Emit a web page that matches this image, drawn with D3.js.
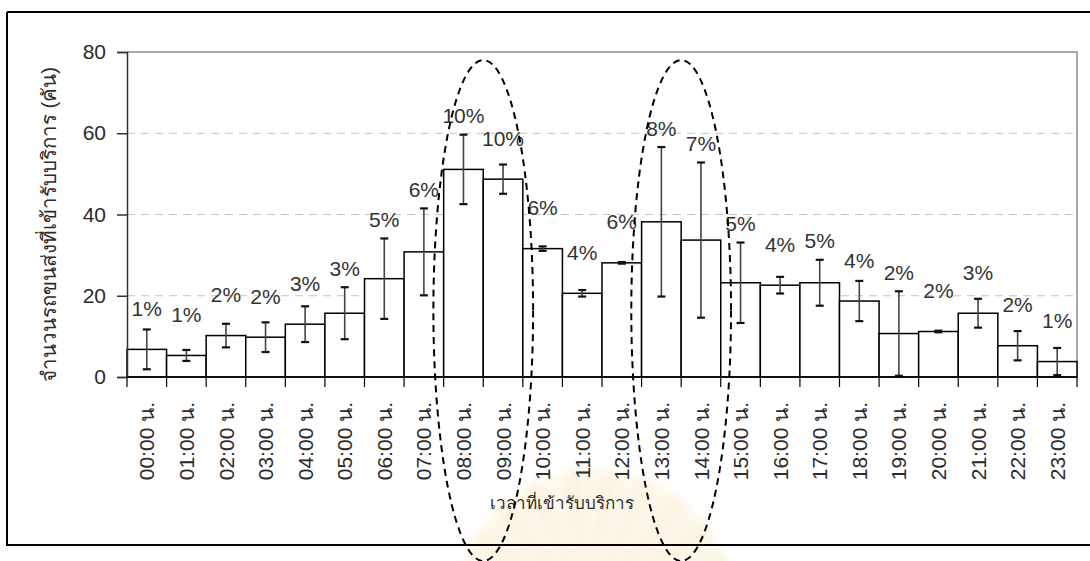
<!DOCTYPE html>
<html>
<head>
<meta charset="utf-8">
<script src="https://cdn.jsdelivr.net/npm/d3@7"></script>
<style>
  html, body { margin: 0; padding: 0; background: #fff; }
  svg { display: block; }
  text { font-family: "Liberation Sans", Arial, "Noto Sans", sans-serif; }
</style>
</head>
<body>
<svg id="chart" width="1090" height="561"></svg>
<script>
// Hourly arrivals of transport vehicles (mean per hour) with error range
const hours = ["00:00 น.", "01:00 น.", "02:00 น.", "03:00 น.", "04:00 น.", "05:00 น.",
  "06:00 น.", "07:00 น.", "08:00 น.", "09:00 น.", "10:00 น.", "11:00 น.",
  "12:00 น.", "13:00 น.", "14:00 น.", "15:00 น.", "16:00 น.", "17:00 น.",
  "18:00 น.", "19:00 น.", "20:00 น.", "21:00 น.", "22:00 น.", "23:00 น."];
const vehicles = [6.8, 5.3, 10.2, 9.8, 13.0, 15.7, 24.2, 30.8, 51.1, 48.7, 31.6, 20.6,
  28.1, 38.2, 33.7, 23.2, 22.6, 23.2, 18.7, 10.7, 11.2, 15.7, 7.7, 3.8];
const spread = [4.9, 1.35, 2.9, 3.65, 4.4, 6.4, 9.9, 10.7, 8.55, 3.6, 0.55, 0.8,
  0.2, 18.4, 19.1, 9.9, 2.05, 5.65, 4.95, 10.4, 0.2, 3.55, 3.6, 3.35];
const yTicks = [0, 20, 40, 60, 80];
// Peak periods circled on the chart
const peakPairs = [["08:00 น.", "09:00 น."], ["13:00 น.", "14:00 น."]];

const yTitle = "จำนวนรถขนส่งที่เข้ารับบริการ (คัน)";
const xTitle = "เวลาที่เข้ารับบริการ";

const svg = d3.select("#chart");
const W = 1090, H = 561;
const plot = { left: 127, right: 1077, top: 52, bottom: 377 };
const ink = "#2b2b2b";

const x = d3.scaleBand().domain(hours).range([plot.left, plot.right]).padding(0);
const y = d3.scaleLinear().domain([0, 80]).range([plot.bottom, plot.top]);

// faint emblem behind the x-axis title
const defs = svg.append("defs");
defs.append("filter").attr("id", "soft")
  .append("feGaussianBlur").attr("stdDeviation", 5);
const emblem = svg.append("g").attr("filter", "url(#soft)").attr("opacity", 0.18);
const rays = d3.range(-80, 81, 8);
emblem.selectAll("path").data(rays).join("path")
  .attr("transform", d => `translate(595,610) rotate(${d})`)
  .attr("d", "M-6,0 L-15,-140 L15,-140 L6,0 Z")
  .attr("fill", (d, i) => i % 2 ? "#f0c45a" : "#f6dc98");

// outer chart frame
svg.append("path")
  .attr("d", `M7,12 H${W + 5} M7,12 V545 H${W + 5}`)
  .attr("fill", "none").attr("stroke", "#000").attr("stroke-width", 2);

// gridlines
svg.append("g").selectAll("line").data(yTicks.filter(t => t > 0 && t < 80)).join("line")
  .attr("x1", plot.left).attr("x2", plot.right)
  .attr("y1", d => y(d)).attr("y2", d => y(d))
  .attr("stroke", "#c4c4c4").attr("stroke-width", 1).attr("stroke-dasharray", "8,6");

// plot area border (top and right)
svg.append("path")
  .attr("d", `M${plot.left},${y(80)} H${plot.right} V${plot.bottom}`)
  .attr("fill", "none").attr("stroke", "#8c8c8c").attr("stroke-width", 1.5);

// bars
svg.append("g").selectAll("rect").data(hours).join("rect")
  .attr("x", d => x(d)).attr("width", x.bandwidth())
  .attr("y", (d, i) => y(vehicles[i]))
  .attr("height", (d, i) => y(0) - y(vehicles[i]))
  .attr("fill", "#fff").attr("stroke", "#000").attr("stroke-width", 1.5);

// error bars
const eb = svg.append("g").selectAll("g").data(hours).join("g")
  .attr("transform", d => `translate(${x(d) + x.bandwidth() / 2},0)`);
eb.append("line")
  .attr("y1", (d, i) => y(Math.max(0, vehicles[i] - spread[i])))
  .attr("y2", (d, i) => y(vehicles[i] + spread[i]))
  .attr("stroke", "#444").attr("stroke-width", 1.6);
eb.selectAll("line.cap").data((d, i) => [vehicles[i] + spread[i], Math.max(0, vehicles[i] - spread[i])])
  .join("line").attr("class", "cap")
  .attr("x1", -4).attr("x2", 4)
  .attr("y1", v => y(v)).attr("y2", v => y(v))
  .attr("stroke", "#111").attr("stroke-width", 2.2);

// share labels above each bar, lifted clear of the error bar
const total = d3.sum(vehicles);
svg.append("g").selectAll("text").data(hours).join("text")
  .attr("x", d => x(d) + x.bandwidth() / 2)
  .attr("y", (d, i) => Math.min(y(vehicles[i]) - 41, y(vehicles[i] + spread[i]) - 19) + 7.5)
  .attr("text-anchor", "middle")
  .attr("font-size", 21).style("fill", "#333")
  .text((d, i) => Math.round(vehicles[i] / total * 100) + "%");

// y axis
const yAxis = svg.append("g").attr("transform", `translate(${plot.left},0)`)
  .call(d3.axisLeft(y).tickValues(yTicks).tickSize(10).tickPadding(11));
yAxis.select(".domain").attr("stroke", "#333").attr("stroke-width", 1.5);
yAxis.selectAll(".tick line").attr("stroke", "#333").attr("stroke-width", 1.5);
yAxis.selectAll(".tick text").attr("font-size", 21)
  .style("font-family", "'Liberation Sans', Arial, sans-serif").style("fill", ink);

// x axis: ticks fall on category boundaries
const xAxis = svg.append("g").attr("transform", `translate(0,${plot.bottom})`)
  .call(d3.axisBottom(x).tickSize(0).tickPadding(0));
xAxis.select(".domain").remove();
xAxis.append("line").attr("x1", plot.left).attr("x2", plot.right)
  .attr("stroke", "#000").attr("stroke-width", 1.5);
xAxis.selectAll("line.bound").data(d3.range(hours.length + 1)).join("line")
  .attr("class", "bound")
  .attr("x1", i => plot.left + i * x.step()).attr("x2", i => plot.left + i * x.step())
  .attr("y1", 0).attr("y2", 10)
  .attr("stroke", "#000").attr("stroke-width", 1.2);
xAxis.selectAll(".tick text")
  .attr("transform", "rotate(-90)")
  .attr("text-anchor", "end")
  .attr("x", -25).attr("y", 0).attr("dy", "0.36em")
  .attr("font-size", 21)
  .style("font-family", "'Liberation Sans', Arial, sans-serif").style("fill", ink);

// axis titles
svg.append("text")
  .attr("transform", `translate(56,${(plot.top + plot.bottom) / 2 + 10}) rotate(-90)`)
  .attr("text-anchor", "middle").attr("font-size", 20.5).style("fill", ink)
  .text(yTitle);
svg.append("text")
  .attr("x", 562).attr("y", 509)
  .attr("text-anchor", "middle").attr("font-size", 17).style("fill", ink)
  .text(xTitle);

// dashed ellipses around the two peak periods
const ellTop = y(78), ellBottom = H;
svg.append("g").selectAll("ellipse").data(peakPairs).join("ellipse")
  .attr("cx", d => x(d[1]))
  .attr("cy", (ellTop + ellBottom) / 2)
  .attr("rx", x.bandwidth() * 1.26)
  .attr("ry", (ellBottom - ellTop) / 2)
  .attr("fill", "none").attr("stroke", "#000")
  .attr("stroke-width", 2).attr("stroke-dasharray", "7,5");
</script>
</body>
</html>
